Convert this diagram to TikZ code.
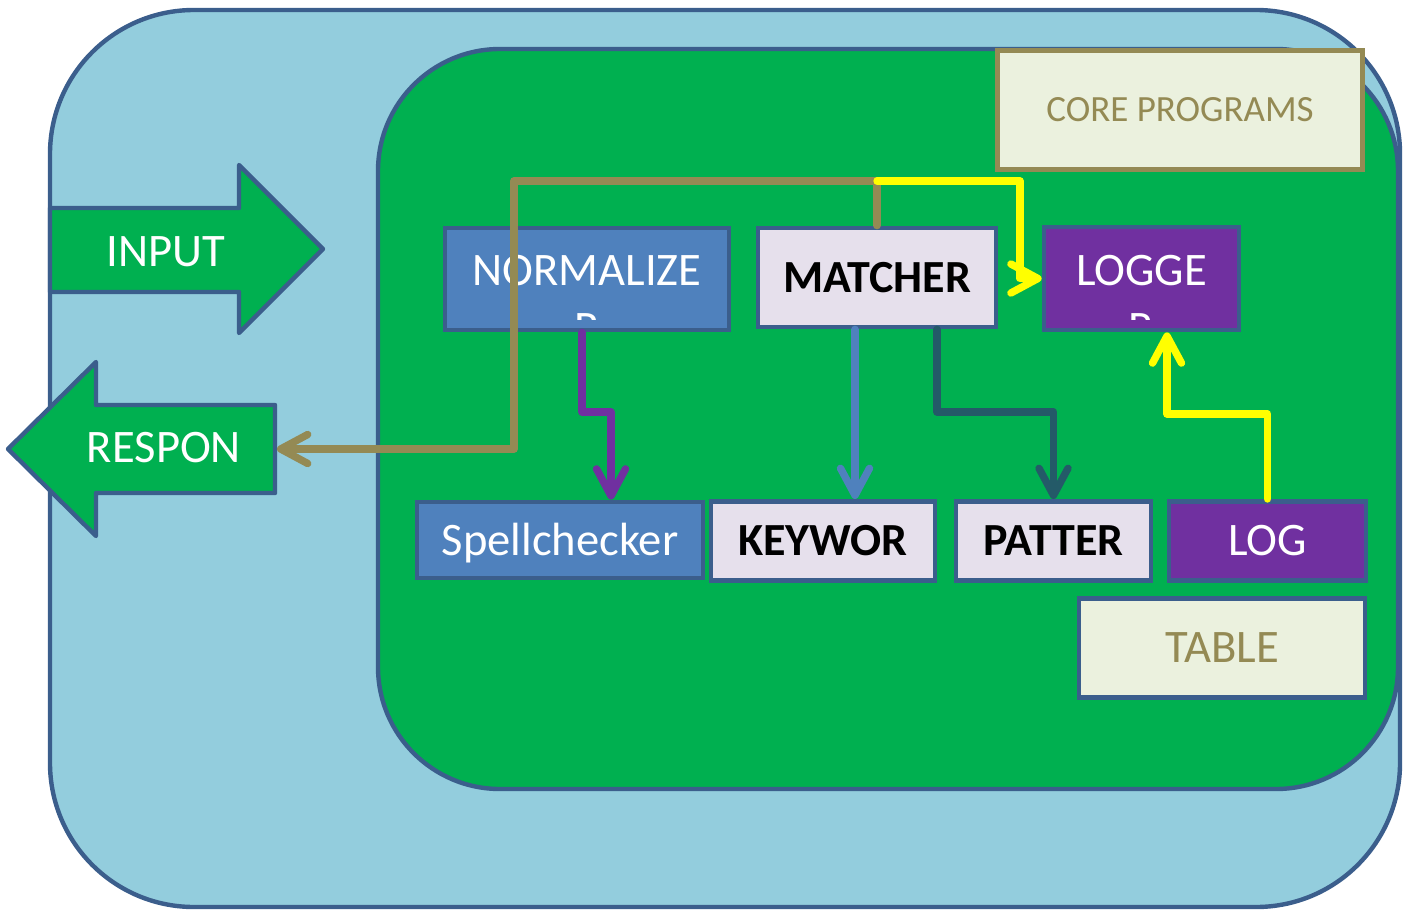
\documentclass[tikz,border=0pt]{standalone}
\usepackage{fontspec}
\setmainfont{Carlito}
\usetikzlibrary{arrows.meta,positioning,calc}
\definecolor{hellblau}{HTML}{93CDDD}
\definecolor{rand}{HTML}{3B5E8C}
\definecolor{gruen}{HTML}{00B050}
\definecolor{blau}{HTML}{4F81BD}
\definecolor{lavendel}{HTML}{E6E0EC}
\definecolor{lila}{HTML}{7030A0}
\definecolor{creme}{HTML}{EBF1DE}
\definecolor{oliv}{HTML}{948A54}
\definecolor{tuerkis}{HTML}{245A68}
\definecolor{gelb}{HTML}{FFFF00}

\begin{document}
\begin{tikzpicture}[x=0.5pt,y=-0.5pt,
  schrift/.style={font=\fontsize{23.3}{29}\selectfont},
  kasten/.style={draw=rand,line width=2.4pt,inner sep=0pt,schrift,text height=15pt,text depth=0pt},
  blaukasten/.style={kasten,fill=blau,text=white},
  hellkasten/.style={kasten,fill=lavendel,text=black,font=\fontsize{23}{29}\selectfont\bfseries},
  lilakasten/.style={kasten,fill=lila,text=white},
  verbindung/.style={line width=3.7pt,line cap=round,line join=round,
    -{Straight Barb[length=13.5pt,width=14.5pt,line cap=round,line join=round]}},
  pfeilform/.style={draw=rand,line width=2.2pt,fill=gruen,line join=round}]
\useasboundingbox (0,0) rectangle (1412,910);
%Hintergrund
\draw[rand,line width=2.2pt,fill=hellblau,rounded corners=72pt] (50,10) rectangle (1400,907);
\draw[rand,line width=2.2pt,fill=gruen,rounded corners=61pt] (378,49) rectangle (1398,789);
%Pfeile links
\draw[pfeilform] (50,208) -- (239,208) -- (239,165) -- (323,249) -- (239,333) -- (239,292) -- (50,292) -- cycle;
\node[schrift,text=white] (input) at (166,252) {INPUT};
\draw[pfeilform] (8,449) -- (96,362) -- (96,405) -- (275,405) -- (275,493) -- (96,493) -- (96,536) -- cycle;
\node[schrift,text=white] (respon) at (164,448) {RESPON};
\coordinate (respontail) at (277,449);
%Kaesten
\node[draw=oliv,line width=2.4pt,fill=creme,text=oliv,minimum width=182.5pt,minimum height=59.5pt,
  font=\fontsize{18.5}{22}\selectfont] (core) at (1180,110) {CORE PROGRAMS};
\node[blaukasten,minimum width=142pt,minimum height=51pt] (normalize) at (587,279) {};
\node[hellkasten,minimum width=119pt,minimum height=49.5pt] (matcher) at (877,277.5) {MATCHER};
\node[lilakasten,minimum width=97.5pt,minimum height=51.5pt] (logger) at (1141.5,278.5) {};
\begin{scope}
  \clip (447,230) rectangle (727,319);
  \node[schrift,text=white,align=center,anchor=base] (normalizetext) at (587,343) {NORMALIZE\\R};
\end{scope}
\begin{scope}
  \clip (1046,229) rectangle (1237,319);
  \node[schrift,text=white,align=center,anchor=base] (loggertext) at (1141.5,343) {LOGGE\\R};
\end{scope}
\node[blaukasten,minimum width=143pt,minimum height=38pt,yshift=-1.5pt] (spell) at (560,537) {Spellchecker};
\node[hellkasten,minimum width=112pt,minimum height=39.5pt,yshift=-1.2pt] (keywor) at (823,538.5) {KEYWOR};
\node[hellkasten,minimum width=97.5pt,minimum height=39.5pt,yshift=-1.2pt] (patter) at (1053.5,538.5) {PATTER};
\node[lilakasten,minimum width=98.5pt,minimum height=39.5pt,yshift=-1.2pt] (log) at (1267.5,538.5) {LOG};
\node[kasten,fill=creme,text=oliv,minimum width=143pt,minimum height=49.5pt,yshift=-1.2pt] (table) at (1222,645.5) {TABLE};
%Verbindungen
\coordinate (oben) at (514,181);
\coordinate (unten) at (514,449);
\coordinate (gelbecke) at (1020,278.5);
\coordinate (lilaknick) at (611,412);
\coordinate (tuerkisknick) at (1053.5,412);
\coordinate (gelbknick) at (1167,414);
\draw[verbindung,oliv] (matcher.north) |- (oben) -- (unten) -- (respontail);
\draw[verbindung,gelb] (matcher.north |- oben) -| (gelbecke) -- (logger.west);
\draw[verbindung,lila] ([xshift=-2.5pt]normalize.south) |- (lilaknick) -- (lilaknick |- spell.north);
\draw[verbindung,blau] ([xshift=-11pt]matcher.south) -- ([xshift=-11pt]matcher.south |- keywor.north);
\draw[verbindung,tuerkis] ([xshift=30pt]matcher.south) |- (tuerkisknick) -- (patter.north);
\draw[verbindung,gelb] (log.north) |- (gelbknick) -- (gelbknick |- logger.south);
\end{tikzpicture}
\end{document}
